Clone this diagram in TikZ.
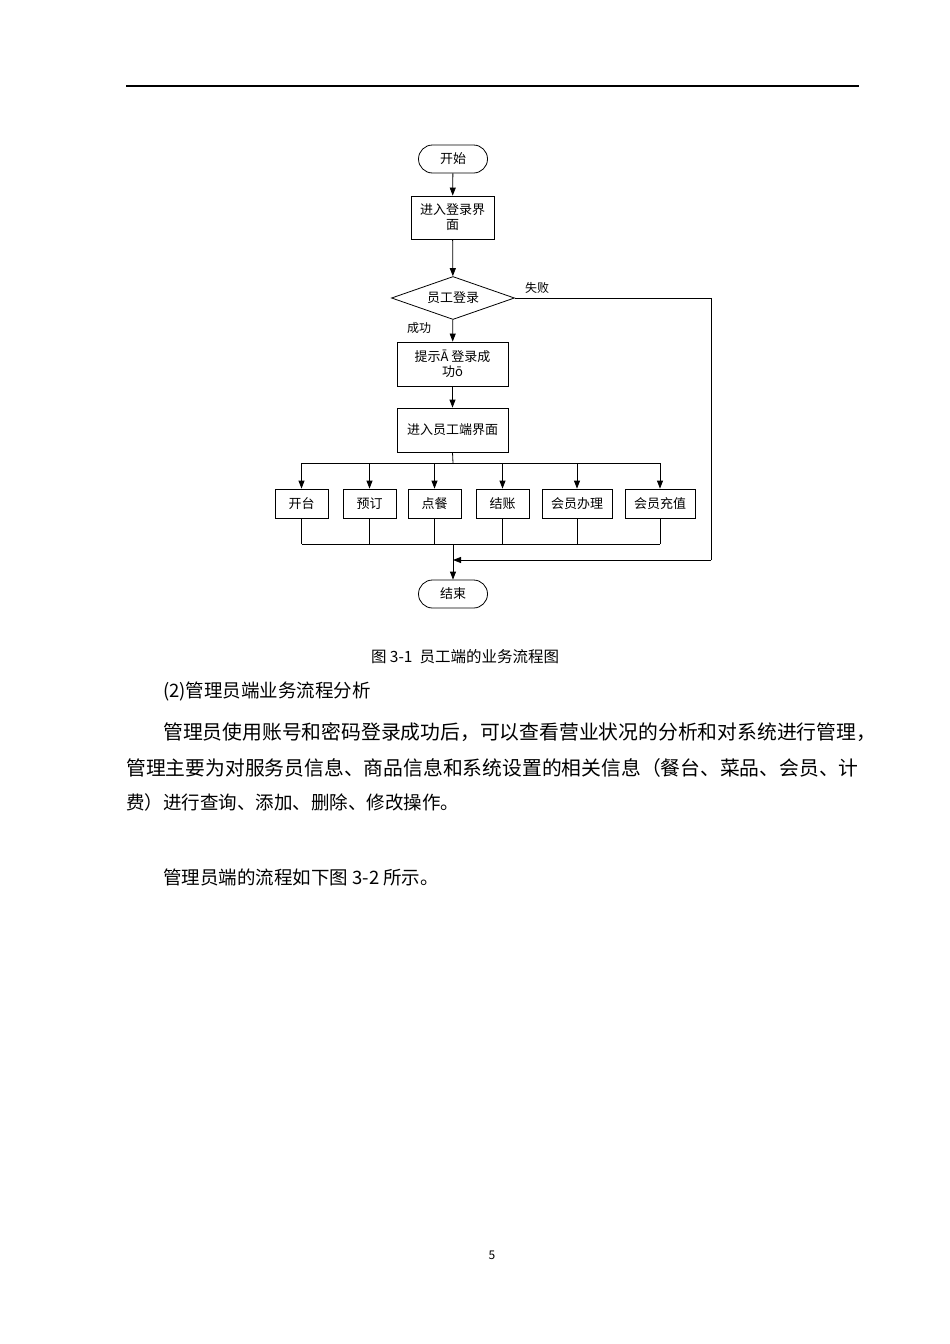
\documentclass[tikz,border=0pt]{standalone}
\usepackage{fontspec}
\setmainfont{Noto Sans CJK SC}
\usetikzlibrary{shapes.geometric,arrows.meta}
\begin{document}
\begin{tikzpicture}[x=1pt,y=-1pt,
  lbl/.style={font=\fontsize{12}{14}\selectfont},
  box/.style={draw,line width=0.8pt,inner sep=0,align=center,font=\fontsize{13}{15}\selectfont},
  term/.style={box,rounded corners=14pt},
  ln/.style={line width=0.8pt},
  arr/.style={ln,-{Triangle[length=8pt,width=6pt]}},
  body/.style={anchor=west,inner sep=0,font=\fontsize{18.5}{20}\selectfont}]
\useasboundingbox (0,0) rectangle (950,1344);
\draw[line width=1.2pt] (126,86) -- (859,86);
% nodes
\node[term,minimum width=69pt,minimum height=28pt] (start) at (453,159) {开始};
\node[box,minimum width=83pt,minimum height=43pt] (login) at (452.5,217.5) {进入登录界\\面};
\node[draw,line width=0.8pt,diamond,aspect=2.85,minimum width=123pt,minimum height=43pt,inner sep=0,font=\fontsize{13}{15}\selectfont] (dec) at (453,298) {员工登录};
\node[box,minimum width=111pt,minimum height=44pt] (tip) at (452.5,364) {提示Ā 登录成\\功ō};
\node[box,minimum width=111pt,minimum height=44pt] (emp) at (452.5,430) {进入员工端界面};
\node[box,minimum width=53pt,minimum height=29pt] (b1) at (301.5,503.5) {开台};
\node[box,minimum width=53pt,minimum height=29pt] (b2) at (369.5,503.5) {预订};
\node[box,minimum width=53pt,minimum height=29pt] (b3) at (434.5,503.5) {点餐};
\node[box,minimum width=53pt,minimum height=29pt] (b4) at (502.5,503.5) {结账};
\node[box,minimum width=70pt,minimum height=29pt] (b5) at (577,503.5) {会员办理};
\node[box,minimum width=70pt,minimum height=29pt] (b6) at (660,503.5) {会员充值};
\node[term,minimum width=69pt,minimum height=28pt] (end) at (453,594) {结束};
\node[lbl] (fail) at (537,288) {失败};
\node[lbl] (succ) at (419,328) {成功};
\coordinate (split) at (453,463);
\coordinate (merge) at (453,544);
\coordinate (fr) at (711,298);
\coordinate (fb) at (711,560);
\coordinate (fin) at (453,560);
% connectors
\draw[arr] (start) -- (login);
\draw[arr] (login) -- (dec);
\draw[arr] (dec) -- (tip);
\draw[arr] (tip) -- (emp);
\draw[ln] (emp.south) -- (split);
\draw[ln] (b1.north |- split) -- (b6.north |- split);
\foreach \b in {b1,b2,b3,b4,b5,b6}{
  \draw[arr] (\b.north |- split) -- (\b.north);
  \draw[ln] (\b.south) -- (\b.south |- merge);
}
\draw[ln] (b1.south |- merge) -- (b6.south |- merge);
\draw[arr] (merge) -- (end);
\draw[ln] (dec.east) -- (fr) -- (fb);
\draw[arr] (fb) -- (fin);
% text
\node[inner sep=0,font=\fontsize{15.5}{17}\selectfont] (cap) at (465,657) {图 3-1\ \ 员工端的业务流程图};
\node[body] (t1) at (163,691) {(2)管理员端业务流程分析};
\node[body,font=\fontsize{19.8}{20}\selectfont] (t2) at (163,732) {管理员使用账号和密码登录成功后，可以查看营业状况的分析和对系统进行管理，};
\node[body,font=\fontsize{19.8}{20}\selectfont] (t3) at (126,768) {管理主要为对服务员信息、商品信息和系统设置的相关信息（餐台、菜品、会员、计};
\node[body] (t4) at (126,802) {费）进行查询、添加、删除、修改操作。};
\node[body] (t5) at (163,877) {管理员端的流程如下图 3-2 所示。};
\node[inner sep=0,font=\fontsize{12}{14}\selectfont] (pg) at (492,1255) {5};
\end{tikzpicture}
\end{document}
